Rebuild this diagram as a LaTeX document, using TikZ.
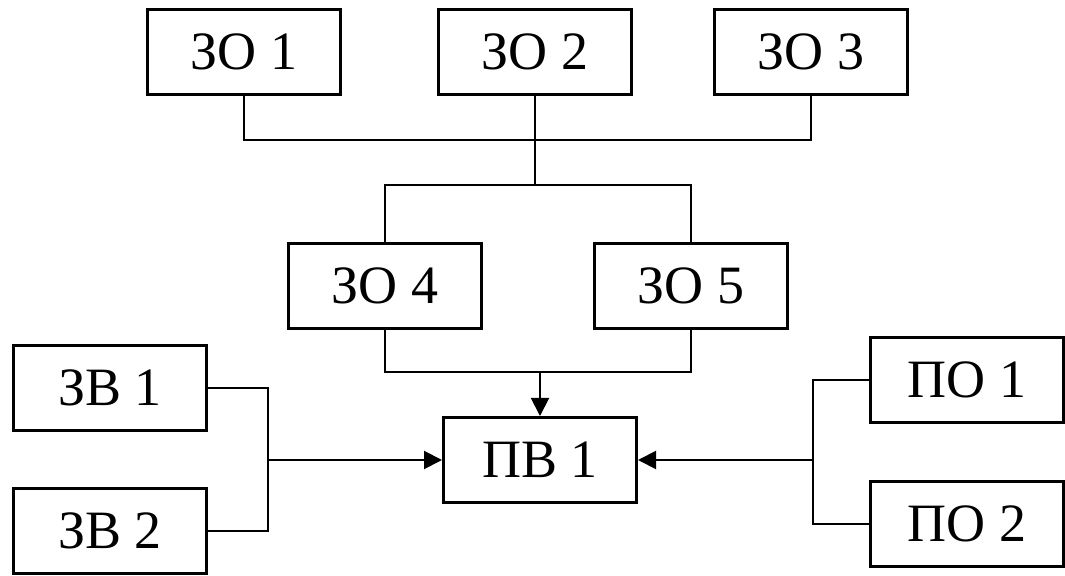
\documentclass[tikz,border=0pt]{standalone}
\usepackage{fontspec}
\setmainfont{Liberation Serif}
\usetikzlibrary{arrows.meta}
\begin{document}
\begin{tikzpicture}[x=0.5pt,y=-0.5pt,
  blk/.style={draw, line width=1.5pt, minimum width=96.5pt, minimum height=42.5pt, inner sep=0pt, font=\fontsize{27}{31}\selectfont},
  conn/.style={line width=1pt},
  arr/.style={conn, -{Triangle[length=9pt,width=9pt]}}]
\useasboundingbox (0,0) rectangle (1065,576);
\node[blk] (zo1) at (244,52) {ЗО 1};
\node[blk] (zo2) at (535,52) {ЗО 2};
\node[blk] (zo3) at (811,52) {ЗО 3};
\node[blk] (zo4) at (385,286) {ЗО 4};
\node[blk] (zo5) at (691,286) {ЗО 5};
\node[blk] (zv1) at (110,388) {ЗВ 1};
\node[blk] (zv2) at (110,531) {ЗВ 2};
\node[blk] (pv1) at (540,460) {ПВ 1};
\node[blk] (po1) at (967,380) {ПО 1};
\node[blk] (po2) at (967,524) {ПО 2};
\coordinate (j1) at (535,140);
\coordinate (j2) at (535,185);
\coordinate (j3) at (540,372);
\coordinate (j4) at (268,460);
\coordinate (j5) at (813,460);
\draw[conn] (zo1.south) |- (j1) -| (zo3.south);
\draw[conn] (zo2.south) -- (j2);
\draw[conn] (zo4.north) |- (j2) -| (zo5.north);
\draw[conn] (zo4.south) |- (j3) -| (zo5.south);
\draw[arr] (j3) -- (pv1.north);
\draw[conn] (zv1.east) -| (j4) |- (zv2.east);
\draw[arr] (j4) -- (pv1.west);
\draw[conn] (po1.west) -| (j5) |- (po2.west);
\draw[arr] (j5) -- (pv1.east);
\end{tikzpicture}
\end{document}
